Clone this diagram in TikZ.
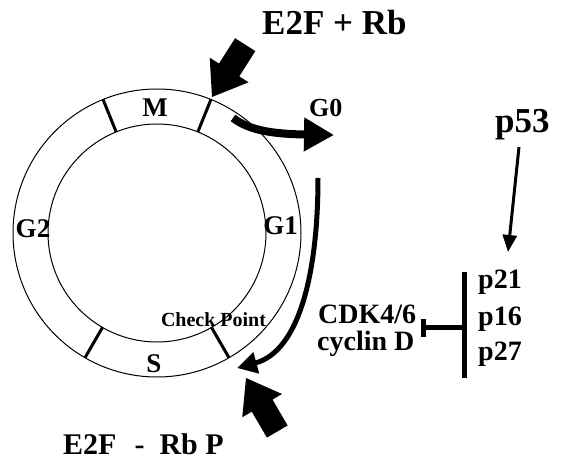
\documentclass[tikz,border=0pt]{standalone}
\usepackage{fontspec}
\setmainfont{Liberation Serif}
\usetikzlibrary{arrows.meta,calc}
\tikzset{
  txt/.style={inner sep=0pt, font=\bfseries\fontsize{#1}{#1}\selectfont},
  ring/.style={line width=1pt},
  phasetick/.style={line width=3pt},
  thickflow/.style={line width=#1, line cap=butt},
  blockarrow/.pic={
    \fill (0,0) -- (-32,23) -- (-32,12) -- (-62,12) -- (-62,-12)
          -- (-32,-12) -- (-32,-23) -- cycle;
  }
}
\begin{document}
\begin{tikzpicture}[x=1pt,y=1pt]
\useasboundingbox (0,0) rectangle (563,461);

% cell cycle ring
\coordinate (c) at (157,228);
\draw[ring] (c) circle[radius=144];
\draw[ring] (c) circle[radius=109];
\foreach \a in {68,112,240,300}
  \draw[phasetick] ($(c)+(\a:109)$) -- ($(c)+(\a:144)$);

% phase labels
\node[txt=27, anchor=base] (M)  at (155,344) {M};
\node[txt=27, anchor=base] (G2) at (33,223) {G2};
\node[txt=27, anchor=base] (G1) at (280.5,226) {G1};
\node[txt=27, anchor=base] (S)  at (154,88) {S};
\node[txt=20, anchor=base] (cp) at (213.5,134) {Check Point};

% E2F complexes
\node[txt=35, anchor=base west] (e2frb) at (262,426) {E2F + Rb};
\node[txt=30, anchor=base west] (e2frbp) at (63,6)
  {E2F\hspace{18pt}-\hspace{15pt}Rb P};
\pic[rotate=237.6] at (212,364) {blockarrow};
\pic[rotate=120.3] at (246,83) {blockarrow};

% exit to G0
\node[txt=26, anchor=base west] (G0) at (309,344) {G0};
\coordinate (g0s) at (233,343);
\coordinate (g0e) at (334,326);
\draw[thickflow=8pt, -{Triangle[length=30pt,width=32pt]}]
  (g0s) .. controls (250,330) and (275,327) .. (g0e);

% re-entry towards S phase
\coordinate (rs) at (318,283);
\coordinate (re) at (237,93);
\draw[thickflow=5pt, -{Triangle[length=20pt,width=21pt]}]
  (rs) .. controls (318,190) and (300,110) .. (re);

% p53 pathway
\node[txt=35, anchor=base west] (p53) at (495,328) {p53};
\node[txt=28, anchor=base west] (p21) at (478,172) {p21};
\node[txt=28, anchor=base west] (p16) at (478,135) {p16};
\node[txt=28, anchor=base west] (p27) at (478,100) {p27};
\node[txt=28, anchor=base west] (cdk) at (318,137) {CDK4/6};
\node[txt=28, anchor=base west] (cyc) at (317,110) {cyclin D};

\coordinate (p53s) at (519,314);
\coordinate (p53e) at (508,209);
\draw[line width=3pt, -{Triangle[length=17pt,width=14pt]}] (p53s) -- (p53e);

\coordinate (bart) at (464.5,189);
\coordinate (barb) at (464.5,83);
\coordinate (barm) at (464.5,133);
\coordinate (inh) at (421,133);
\draw[line width=4.5pt] (bart) -- (barb);
\draw[line width=5pt, -{Bar[width=18pt,line width=4.5pt]}] (barm) -- (inh);
\end{tikzpicture}
\end{document}
